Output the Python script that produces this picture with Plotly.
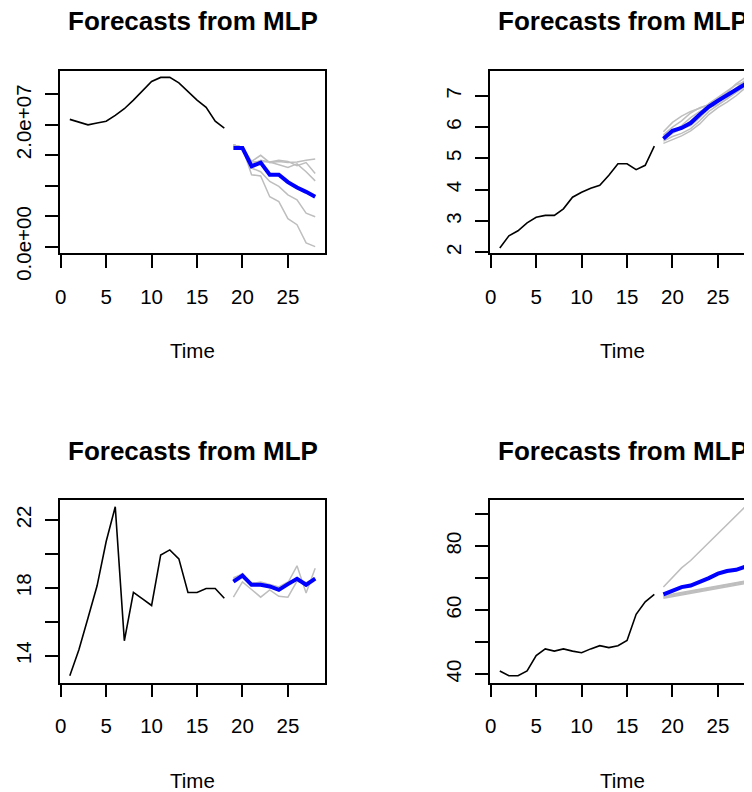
import plotly.graph_objects as go

W, H = 752, 792
OFF = 8  # the page body places the figure 8px from the top-left corner

# ---------------- data ----------------
time_hist = [1, 2, 3, 4, 5, 6, 7, 8, 9, 10, 11, 12, 13, 14, 15, 16, 17, 18]
time_fc = [19, 20, 21, 22, 23, 24, 25, 26, 27, 28]
x_ticks = [0, 5, 10, 15, 20, 25]

# Panel 1 (top-left), values in units of 1e6
p1_hist = [20.9, 20.45, 20.0, 20.3, 20.6, 21.55, 22.65, 24.07, 25.6, 27.13,
           27.8, 27.8, 26.9, 25.44, 24.07, 22.87, 20.62, 19.47]
p1_mean = [16.2, 16.2, 13.2, 13.8, 11.8, 11.8, 10.6, 9.7, 9.0, 8.2]
p1_reps = [
    [16.7, 16.3, 14.0, 15.0, 13.8, 14.0, 13.8, 13.9, 14.2, 14.4],
    [16.7, 16.3, 13.9, 14.0, 13.9, 14.2, 14.0, 13.3, 13.8, 12.0],
    [16.7, 16.3, 13.5, 14.2, 13.9, 13.5, 13.0, 13.6, 12.3, 10.8],
    [16.7, 16.3, 12.9, 12.3, 10.7, 9.9, 8.5, 7.7, 5.5, 4.9],
    [16.7, 16.3, 11.8, 11.6, 8.2, 7.4, 4.6, 3.6, 0.6, 0.0],
]
p1_scale = 1e6
p1_yticks = [0, 5e6, 1e7, 1.5e7, 2e7, 2.5e7]
p1_ylabels = ["0.0e+00", "", "", "", "2.0e+07", ""]

# Panel 2 (top-right)
p2_hist = [2.14, 2.53, 2.69, 2.94, 3.12, 3.18, 3.18, 3.39, 3.76, 3.92,
           4.05, 4.14, 4.46, 4.83, 4.83, 4.64, 4.78, 5.39]
p2_mean = [5.63, 5.88, 5.97, 6.13, 6.40, 6.65, 6.84, 7.02, 7.18, 7.37]
p2_reps = [
    [5.85, 6.15, 6.35, 6.50, 6.60, 6.72, 6.90, 7.10, 7.38, 7.58],
    [5.75, 6.00, 6.20, 6.45, 6.62, 6.70, 6.80, 7.00, 7.25, 7.50],
    [5.70, 5.90, 6.00, 6.20, 6.45, 6.75, 6.95, 7.15, 7.35, 7.45],
    [5.60, 5.80, 5.95, 6.05, 6.30, 6.60, 6.85, 7.05, 7.20, 7.40],
    [5.55, 5.70, 5.80, 5.95, 6.20, 6.50, 6.70, 6.90, 7.10, 7.30],
    [5.48, 5.60, 5.72, 5.88, 6.10, 6.40, 6.62, 6.80, 7.00, 7.25],
    [5.65, 5.85, 6.05, 6.30, 6.50, 6.62, 6.72, 6.90, 7.15, 7.42],
]
p2_yticks = [2, 3, 4, 5, 6, 7]
p2_ylabels = ["2", "3", "4", "5", "6", "7"]

# Panel 3 (bottom-left)
p3_hist = [12.82, 14.35, 16.22, 18.12, 20.73, 22.78, 14.88, 17.73, 17.35, 16.96,
           19.94, 20.24, 19.71, 17.73, 17.73, 17.96, 17.96, 17.39]
p3_mean = [18.37, 18.73, 18.18, 18.18, 18.08, 17.88, 18.22, 18.53, 18.18, 18.55]
p3_reps = [
    [17.45, 18.35, 17.90, 17.45, 17.88, 17.50, 17.45, 18.40, 18.20, 18.50],
    [18.55, 18.85, 18.20, 18.30, 18.15, 18.00, 18.30, 19.30, 17.70, 19.15],
    [18.60, 18.80, 18.25, 18.35, 18.20, 18.05, 18.35, 18.50, 18.30, 18.60],
    [18.45, 18.70, 18.15, 18.25, 18.10, 17.95, 18.30, 18.45, 18.20, 18.50],
    [18.50, 18.75, 18.30, 18.20, 18.00, 17.90, 18.25, 18.60, 18.25, 18.55],
]
p3_yticks = [14, 16, 18, 20, 22]
p3_ylabels = ["14", "", "18", "", "22"]

# Panel 4 (bottom-right)
p4_hist = [41.0, 39.5, 39.5, 41.0, 45.8, 47.9, 47.2, 47.9, 47.2, 46.7,
           47.9, 48.9, 48.3, 48.9, 50.5, 58.7, 62.6, 64.9]
p4_mean = [64.9, 66.2, 67.2, 67.7, 68.8, 70.0, 71.4, 72.2, 72.6, 73.6]
p4_reps = [
    [67.2, 70.3, 73.2, 75.5, 78.3, 81.2, 84.0, 86.9, 89.5, 92.3],
    [63.7, 64.2, 64.7, 65.2, 65.7, 66.2, 66.7, 67.2, 67.7, 68.3],
    [64.0, 64.5, 65.0, 65.5, 66.0, 66.5, 67.0, 67.5, 68.0, 68.6],
    [64.3, 64.8, 65.3, 65.8, 66.3, 66.8, 67.3, 67.8, 68.3, 68.9],
    [64.5, 65.0, 65.5, 66.0, 66.5, 67.0, 67.5, 68.0, 68.5, 69.1],
]
p4_yticks = [40, 50, 60, 70, 80, 90]
p4_ylabels = ["40", "", "60", "", "80", ""]

title_text = "Forecasts from MLP"
xlab_text = "Time"

# ---------------- layout helpers ----------------
FONT = "Liberation Sans, Arial, Helvetica, sans-serif"
BLACK = "#000000"
GREY = "#BEBEBE"
BLUE = "#0000FF"

fig = go.Figure()

# box positions given in page pixels: left, right, top, bottom
panels = [
    dict(hist=p1_hist, mean=p1_mean, reps=p1_reps, scale=p1_scale,
         yt=p1_yticks, yl=p1_ylabels, yr=[-1.1e6, 28.9e6], box=(60, 325, 70.7, 253.3)),
    dict(hist=p2_hist, mean=p2_mean, reps=p2_reps, scale=1,
         yt=p2_yticks, yl=p2_ylabels, yr=[1.97, 7.80], box=(490, 755, 70.7, 253.3)),
    dict(hist=p3_hist, mean=p3_mean, reps=p3_reps, scale=1,
         yt=p3_yticks, yl=p3_ylabels, yr=[12.42, 23.18], box=(60, 325, 500, 682.5)),
    dict(hist=p4_hist, mean=p4_mean, reps=p4_reps, scale=1,
         yt=p4_yticks, yl=p4_ylabels, yr=[37.4, 94.4], box=(490, 755, 500, 682.5)),
]


def fx(px):
    return (px - OFF) / W


def fy(py):
    return 1 - (py - OFF) / H


layout_axes = {}
annotations = []
for i, p in enumerate(panels, start=1):
    xa = "x" if i == 1 else f"x{i}"
    ya = "y" if i == 1 else f"y{i}"
    s = p["scale"]
    for rep in p["reps"]:
        fig.add_trace(go.Scatter(x=time_fc, y=[v * s for v in rep], mode="lines",
                                 line=dict(color=GREY, width=1.5),
                                 xaxis=xa, yaxis=ya, showlegend=False, hoverinfo="skip"))
    fig.add_trace(go.Scatter(x=time_hist, y=[v * s for v in p["hist"]], mode="lines",
                             line=dict(color=BLACK, width=1.6),
                             xaxis=xa, yaxis=ya, showlegend=False))
    fig.add_trace(go.Scatter(x=time_fc, y=[v * s for v in p["mean"]], mode="lines",
                             line=dict(color=BLUE, width=4),
                             xaxis=xa, yaxis=ya, showlegend=False))

    l, r, t, b = p["box"]
    xkey = "xaxis" if i == 1 else f"xaxis{i}"
    ykey = "yaxis" if i == 1 else f"yaxis{i}"
    layout_axes[xkey] = dict(
        domain=[fx(l), fx(r)], range=[-0.08, 29.08], anchor=ya, automargin=False,
        tickmode="array", tickvals=x_ticks, ticktext=[str(v) for v in x_ticks],
        ticks="outside", ticklen=13, tickwidth=1.8, tickcolor=BLACK,
        showline=True, linecolor=BLACK, linewidth=1.8, mirror=True,
        showgrid=False, zeroline=False, ticklabelstandoff=11,
        tickfont=dict(family=FONT, size=20.5, color=BLACK),
    )
    layout_axes[ykey] = dict(
        domain=[fy(b), fy(t)], range=p["yr"], anchor=xa, automargin=False,
        tickmode="array", tickvals=p["yt"], ticktext=p["yl"], tickangle=-90,
        ticks="outside", ticklen=13, tickwidth=1.8, tickcolor=BLACK,
        showline=True, linecolor=BLACK, linewidth=1.8, mirror=True,
        showgrid=False, zeroline=False, ticklabelstandoff=6,
        tickfont=dict(family=FONT, size=20.5, color=BLACK),
    )
    cx = fx((l + r) / 2)
    annotations.append(dict(text="<b>" + title_text + "</b>", x=cx, y=fy(t - 49.5),
                            xref="paper", yref="paper", xanchor="center", yanchor="middle",
                            showarrow=False, font=dict(family=FONT, size=26, color=BLACK)))
    annotations.append(dict(text=xlab_text, x=cx, y=fy(b + 97.5),
                            xref="paper", yref="paper", xanchor="center", yanchor="middle",
                            showarrow=False, font=dict(family=FONT, size=20.5, color=BLACK)))

fig.update_layout(
    width=W, height=H, margin=dict(l=0, r=0, t=0, b=0, autoexpand=False),
    paper_bgcolor="white", plot_bgcolor="white",
    annotations=annotations, **layout_axes,
)

fig.write_html("out.html")
